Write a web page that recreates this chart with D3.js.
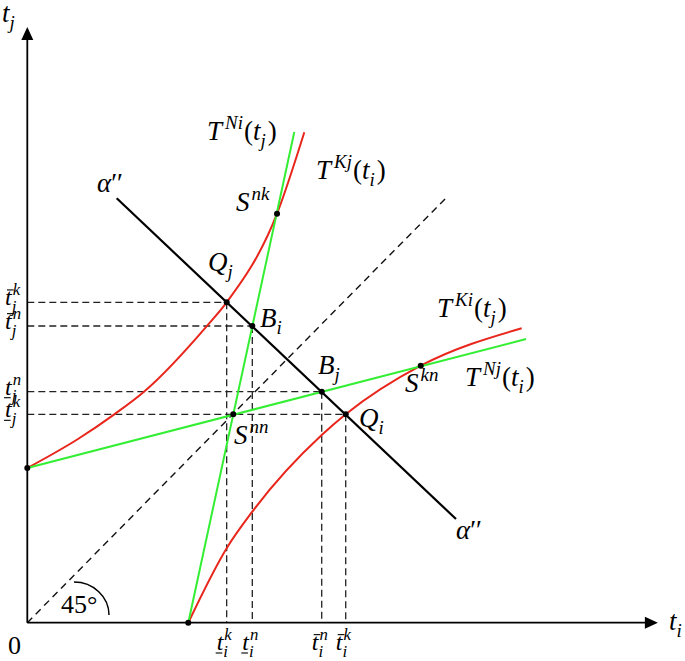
<!DOCTYPE html>
<html><head><meta charset="utf-8">
<script src="https://cdn.jsdelivr.net/npm/d3@7"></script>
<style>
html,body{margin:0;padding:0;background:#fff;}
svg{display:block;}
svg text{font-family:"Liberation Serif","Times New Roman",serif;}
</style></head>
<body>
<svg id="chart" width="685" height="661"></svg>
<script>
// ---------- data (abstract units, origin at axes corner) ----------
const axisEnds = [105.1, 99.3];               // x tip, y tip
const greenNi = [[26.83, 0], [44.5, 81.78]];   // T^{Ni}(t_j)
const greenNj = [[0, 25.78], [83.12, 47.28]];  // T^{Nj}(t_i)
const redKj = [[0, 25.78], [8.45, 30.62], [14.5, 34.73], [19.45, 38.5], [30.17, 49.73], [33.23, 53.4], [41.62, 68.17], [46.17, 81.73]];
const redKi = [[26.83, 0], [33.28, 12.5], [37.5, 18.5], [49.07, 31.28], [53.07, 34.73], [65.57, 42.83], [82.4, 49.07]];
const alphaLine = [[14.9, 70.73], [71.45, 17.28]];
const diagonal = [[0, 0], [70, 71]];
const dotNames = ["Snn", "Qj", "Bi", "Bj", "Qi", "Snk", "Skn", "Y0", "X0"];
const dotX = [34.33, 33.23, 37.5, 49.07, 53.07, 41.62, 65.57, 0, 26.83];
const dotY = [34.73, 53.4, 49.45, 38.5, 34.73, 68.17, 42.83, 25.78, 0];
const guideNames = ["Qj", "Bi", "Bj", "Qi"];
const guideX = [33.23, 37.5, 49.07, 53.07];
const guideY = [53.4, 49.45, 38.5, 34.73];
// tick labels
const yTickSup = ["k", "n", "n", "k"];
const yTickMark = ["bar", "bar", "under", "under"];
const yTickVal = [53.4, 49.45, 38.5, 34.73];
const xTickSup = ["k", "n", "n", "k"];
const xTickMark = ["under", "under", "bar", "bar"];
const xTickVal = [33.23, 37.5, 49.07, 53.07];

// ---------- scales ----------
const x = d3.scaleLinear().domain([0, 100]).range([27.3, 627.3]);
const y = d3.scaleLinear().domain([0, 100]).range([622.7, 22.7]);

const svg = d3.select("#chart");
const FAMILY = '"Liberation Serif", "Times New Roman", serif';
const FS = 27;
const RED = "#e8261c", GREEN = "#33ee33";

const line = d3.line().x(d => x(d[0])).y(d => y(d[1]));
const curve = d3.line().x(d => x(d[0])).y(d => y(d[1])).curve(d3.curveMonotoneX);

// dashed guides
const gGuide = svg.append("g").attr("stroke", "#222").attr("stroke-width", 1.3)
  .attr("stroke-dasharray", "7,4").attr("fill", "none");
guideX.forEach((gx, i) => {
  gGuide.append("line").attr("x1", x(0)).attr("y1", y(guideY[i])).attr("x2", x(gx)).attr("y2", y(guideY[i]));
  gGuide.append("line").attr("x1", x(gx)).attr("y1", y(guideY[i])).attr("x2", x(gx)).attr("y2", y(0));
});
// diagonal 45 deg
svg.append("path").datum(diagonal).attr("d", line).attr("fill", "none")
  .attr("stroke", "#111").attr("stroke-width", 1.4).attr("stroke-dasharray", "7,5");

// curves
svg.append("path").datum(redKj).attr("d", curve).attr("fill", "none").attr("stroke", RED).attr("stroke-width", 2);
svg.append("path").datum(redKi).attr("d", curve).attr("fill", "none").attr("stroke", RED).attr("stroke-width", 2);
svg.append("path").datum(greenNi).attr("d", line).attr("fill", "none").attr("stroke", GREEN).attr("stroke-width", 2);
svg.append("path").datum(greenNj).attr("d", line).attr("fill", "none").attr("stroke", GREEN).attr("stroke-width", 2);
svg.append("path").datum(alphaLine).attr("d", line).attr("fill", "none").attr("stroke", "#000").attr("stroke-width", 2.2);

// axes
svg.append("line").attr("x1", x(0)).attr("y1", y(0)).attr("x2", x(axisEnds[0]) - 10).attr("y2", y(0))
  .attr("stroke", "#000").attr("stroke-width", 1.8);
svg.append("line").attr("x1", x(0)).attr("y1", y(0)).attr("x2", x(0)).attr("y2", y(axisEnds[1]) + 10)
  .attr("stroke", "#000").attr("stroke-width", 1.8);
const tx = x(axisEnds[0]), ty = y(0);
svg.append("path").attr("d", `M${tx},${ty} L${tx - 13},${ty - 6} L${tx - 13},${ty + 6} Z`).attr("fill", "#000");
const ux = x(0), uy = y(axisEnds[1]);
svg.append("path").attr("d", `M${ux},${uy} L${ux - 6},${uy + 13} L${ux + 6},${uy + 13} Z`).attr("fill", "#000");

// 45 degree arc
{
  const sx = x(7.78), sy = y(6.78), ex = x(13.62), ey = y(1.28);
  svg.append("path").attr("d", `M${sx},${sy} A${ex - sx},${ey - sy} 0 0 1 ${ex},${ey}`)
    .attr("fill", "none").attr("stroke", "#000").attr("stroke-width", 1.5);
}

// dots
dotX.forEach((dx, i) => {
  svg.append("circle").attr("cx", x(dx)).attr("cy", y(dotY[i])).attr("r", 3).attr("fill", "#000");
});

// ---------- math labels ----------
let gL = svg.append("g");
function mtext(px, py, str, size, italic) {
  const t = gL.append("text").attr("x", px).attr("y", py).style("font-family", FAMILY)
    .attr("font-size", size).attr("font-style", italic ? "italic" : "normal").attr("fill", "#000").text(str);
  return t.node().getComputedTextLength();
}
function math(px, py, items, fs) {
  fs = fs || FS;
  const ss = fs * 0.7;
  let cx = px;
  items.forEach(it => {
    const italic = it.it !== false;
    if (it.k === "sup") {
      cx += mtext(cx + 2, py - fs * 0.4, it.s, ss, italic) + 3;
    } else if (it.k === "sub") {
      cx += mtext(cx, py + fs * 0.25, it.s, ss, italic) + 2;
    } else if (it.k === "stack") {
      const w1 = mtext(cx + 1, py - fs * 0.42, it.up, ss, true);
      const w2 = mtext(cx, py + fs * 0.28, it.dn, ss, true);
      cx += Math.max(w1 + 1, w2);
    } else {
      const w = mtext(cx, py, it.s, fs, italic);
      if (it.mark === "bar") {
        gL.append("line").attr("x1", cx + 2).attr("x2", cx + w + 2).attr("y1", py - fs * 0.64).attr("y2", py - fs * 0.64)
          .attr("stroke", "#000").attr("stroke-width", 1.1);
      } else if (it.mark === "under") {
        gL.append("line").attr("x1", cx - 1).attr("x2", cx + w - 1).attr("y1", py + 3).attr("y2", py + 3)
          .attr("stroke", "#000").attr("stroke-width", 1.1);
      }
      cx += w + (it.gap || 0);
    }
  });
}

function drawLabels() {
  gL.remove();
  gL = svg.append("g");
  math(207, 140, [{s: "T", gap: 1}, {k: "sup", s: "Ni"}, {s: "(", it: false}, {s: "t"}, {k: "sub", s: "j"}, {s: ")", it: false}]);
  math(316, 179, [{s: "T", gap: 1}, {k: "sup", s: "Kj"}, {s: "(", it: false}, {s: "t"}, {k: "sub", s: "i"}, {s: ")", it: false}]);
  math(437, 317, [{s: "T", gap: 1}, {k: "sup", s: "Ki"}, {s: "(", it: false}, {s: "t"}, {k: "sub", s: "j"}, {s: ")", it: false}]);
  math(465, 386, [{s: "T", gap: 1}, {k: "sup", s: "Nj"}, {s: "(", it: false}, {s: "t"}, {k: "sub", s: "i"}, {s: ")", it: false}]);
  math(236, 211, [{s: "S"}, {k: "sup", s: "nk"}]);
  math(234, 444, [{s: "S"}, {k: "sup", s: "nn"}]);
  math(405, 392, [{s: "S"}, {k: "sup", s: "kn"}]);
  math(208, 271, [{s: "Q"}, {k: "sub", s: "j"}]);
  math(359, 427, [{s: "Q"}, {k: "sub", s: "i"}]);
  math(260, 327, [{s: "B"}, {k: "sub", s: "i"}]);
  math(318, 374, [{s: "B"}, {k: "sub", s: "j"}]);
  math(97, 192, [{s: "α"}, {s: "′′", it: false}]);
  math(456, 539, [{s: "α"}, {s: "′′", it: false}]);
  mtext(61, 613, "45°", 26, false);
  mtext(8, 654, "0", 26, false);
  math(2, 22, [{s: "t"}, {k: "sub", s: "j"}]);
  math(669, 630, [{s: "t"}, {k: "sub", s: "i"}]);
  yTickVal.forEach((v, i) => {
    math(5, y(v) + 3, [{s: "t", mark: yTickMark[i]}, {k: "stack", up: yTickSup[i], dn: "j"}], 24);
  });
  xTickVal.forEach((v, i) => {
    math(x(v) - 10, 650, [{s: "t", mark: xTickMark[i]}, {k: "stack", up: xTickSup[i], dn: "i"}], 24);
  });
}
drawLabels();
if (document.fonts && document.fonts.load) {
  Promise.all([
    document.fonts.load('italic 27px "Liberation Serif"'),
    document.fonts.load('27px "Liberation Serif"')
  ]).then(drawLabels, () => {});
}
</script>
</body></html>
